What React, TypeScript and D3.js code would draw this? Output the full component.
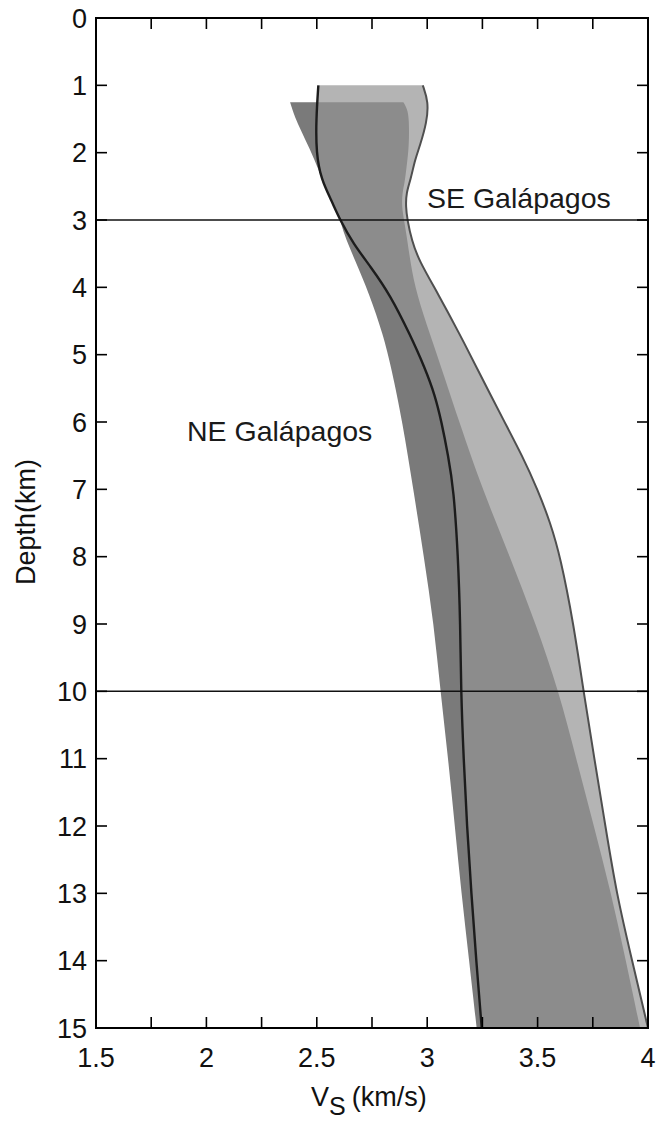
import React from 'react';
import * as d3 from 'd3';

// SE Galápagos envelope: right edge (outlined) and left edge (black curve)
const seRightDepth = [1, 1.25, 1.55, 1.9, 2.1, 2.4, 2.6, 2.8, 3.0, 3.3, 3.6, 4.1, 4.7, 5.2, 6, 6.5, 7, 7.5, 8, 9, 10, 11, 12, 13, 14, 15];
const seRightVs = [2.98, 3.006, 2.998, 2.967, 2.945, 2.925, 2.905, 2.903, 2.91, 2.93, 2.962, 3.05, 3.148, 3.225, 3.35, 3.43, 3.5, 3.558, 3.603, 3.663, 3.708, 3.757, 3.807, 3.857, 3.928, 4.0];
const blackDepth = [1, 1.5, 2, 2.4, 2.7, 3, 3.35, 3.7, 4.1, 4.7, 5.2, 5.6, 6, 6.5, 7, 8, 9, 10, 11, 12, 13, 14, 15];
const blackVs = [2.507, 2.497, 2.497, 2.52, 2.565, 2.605, 2.665, 2.745, 2.83, 2.922, 2.99, 3.035, 3.065, 3.095, 3.12, 3.14, 3.15, 3.153, 3.165, 3.18, 3.2, 3.222, 3.247];

// NE Galápagos envelope
const neLeftDepth = [1.25, 1.5, 1.8, 2.1, 2.4, 2.7, 3.0, 3.2, 3.6, 4.1, 4.7, 5.2, 6, 7, 8, 9, 10, 11, 12, 13, 14, 15];
const neLeftVs = [2.379, 2.403, 2.447, 2.49, 2.524, 2.568, 2.607, 2.622, 2.673, 2.738, 2.8, 2.838, 2.888, 2.937, 2.985, 3.03, 3.06, 3.095, 3.125, 3.155, 3.19, 3.224];
const neRightDepth = [1.25, 1.35, 1.5, 1.9, 2.2, 2.45, 2.6, 2.8, 3.0, 3.3, 3.65, 4.1, 4.7, 5.3, 6, 7, 8, 9, 10, 11, 12, 13, 14, 15];
const neRightVs = [2.892, 2.91, 2.918, 2.918, 2.907, 2.898, 2.887, 2.885, 2.895, 2.91, 2.925, 2.952, 3.013, 3.075, 3.145, 3.25, 3.375, 3.492, 3.596, 3.675, 3.755, 3.833, 3.9, 3.964];

const xTicks = [1.5, 1.75, 2, 2.25, 2.5, 2.75, 3, 3.25, 3.5, 3.75, 4];
const xTickLabels = ['1.5', '', '2', '', '2.5', '', '3', '', '3.5', '', '4'];
const yTicks = [0, 1, 2, 3, 4, 5, 6, 7, 8, 9, 10, 11, 12, 13, 14, 15];
const refDepths = [3, 10];

const FONT = '"Liberation Sans", Arial, sans-serif';

export default function App() {
  const x = d3.scaleLinear().domain([1.5, 4]).range([96, 648]);
  const y = d3.scaleLinear().domain([0, 15]).range([18, 1028]);
  const line = d3
    .line<[number, number]>()
    .x((d) => x(d[0]))
    .y((d) => y(d[1]))
    .curve(d3.curveBasis);
  const pts = (vs: number[], ds: number[]): [number, number][] => vs.map((v, i) => [v, ds[i]] as [number, number]);
  const polygon = (left: [number, number][], right: [number, number][]) => {
    const r = line(right) as string;
    const l = line([...left].reverse()) as string;
    return r + 'L' + l.slice(1) + 'Z';
  };
  const seRight = pts(seRightVs, seRightDepth);
  const black = pts(blackVs, blackDepth);
  const neLeft = pts(neLeftVs, neLeftDepth);
  const neRight = pts(neRightVs, neRightDepth);
  const [x0, x1] = x.range();
  const [y0, y1] = y.range();
  const tl = 11;

  return (
    <svg width={663} height={1122} style={{ position: 'absolute', left: 0, top: 0 }} fontFamily={FONT}>
      <rect x={0} y={0} width={663} height={1122} fill="#fff" />
      <defs>
        <clipPath id="plot">
          <rect x={x0} y={y0} width={x1 - x0} height={y1 - y0} />
        </clipPath>
      </defs>
      <g clipPath="url(#plot)">
        <path d={polygon(neLeft, neRight)} fill="#7a7a7a" />
        <path d={polygon(black, seRight)} fill="rgb(148,148,148)" fillOpacity={0.7} />
        <path d={line(seRight) as string} fill="none" stroke="#4f4f4f" strokeWidth={2} />
        <path d={line(black) as string} fill="none" stroke="#1c1c1c" strokeWidth={2.4} />
        {refDepths.map((d) => (
          <line key={d} x1={x0} x2={x1} y1={y(d)} y2={y(d)} stroke="#111" strokeWidth={1.5} />
        ))}
      </g>
      {/* frame */}
      <rect x={x0} y={y0} width={x1 - x0} height={y1 - y0} fill="none" stroke="#000" strokeWidth={2} />
      {xTicks.map((t, i) => (
        <g key={'x' + i}>
          <line x1={x(t)} x2={x(t)} y1={y1} y2={y1 - tl} stroke="#000" strokeWidth={1.6} />
          <line x1={x(t)} x2={x(t)} y1={y0} y2={y0 + tl} stroke="#000" strokeWidth={1.6} />
          {xTickLabels[i] && (
            <text x={x(t)} y={1067} textAnchor="middle" fontSize={27} fill="#111">
              {xTickLabels[i]}
            </text>
          )}
        </g>
      ))}
      {yTicks.map((t) => (
        <g key={'y' + t}>
          <line x1={x0} x2={x0 + tl} y1={y(t)} y2={y(t)} stroke="#000" strokeWidth={1.6} />
          <line x1={x1} x2={x1 - tl} y1={y(t)} y2={y(t)} stroke="#000" strokeWidth={1.6} />
          <text x={87} y={y(t)} dy="0.36em" textAnchor="end" fontSize={27} fill="#111">
            {t}
          </text>
        </g>
      ))}
      <text x={311} y={1106} fontSize={27} fill="#111">
        V<tspan dy={9} fontSize={25}>S</tspan>
        <tspan dy={-9} dx={6}>(km/s)</tspan>
      </text>
      <text transform="translate(35,522) rotate(-90)" textAnchor="middle" fontSize={27} fill="#111">
        Depth(km)
      </text>
      <text x={427} y={208} fontSize={28.5} fill="#1a1a1a">
        SE Galápagos
      </text>
      <text x={187} y={441} fontSize={28.5} fill="#1a1a1a">
        NE Galápagos
      </text>
    </svg>
  );
}
